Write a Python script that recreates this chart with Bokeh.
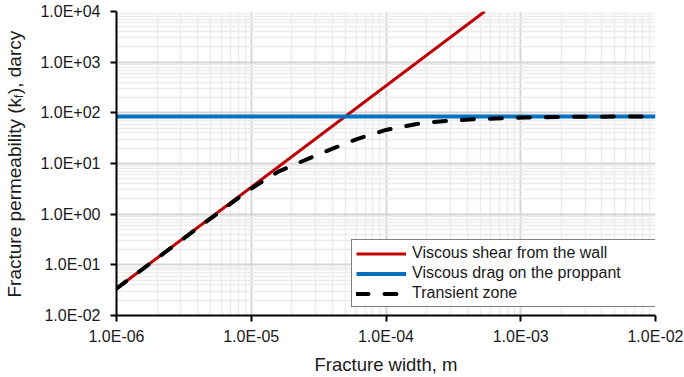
import math
from bokeh.plotting import figure
from bokeh.layouts import row
from bokeh.models import Range1d, FixedTicker, CustomJSTickFormatter, Label, Legend, LegendItem
from bokeh.embed import file_html
from bokeh.resources import INLINE

# ---- data ----
wall_width = [1.0e-6, 5.4e-4]
wall_perm = [0.034, 1.0e4]

drag_width = [1.0e-6, 1.0e-2]
drag_perm = [85.0, 85.0]

trans_width = [1.0e-6, 2.0e-6, 4.0e-6, 7.0e-6, 1.0e-5, 1.6e-5, 2.3e-5, 3.7e-5,
               6.0e-5, 1.0e-4, 1.8e-4, 2.8e-4, 4.6e-4, 7.4e-4, 1.1e-3, 2.0e-3,
               5.0e-3, 1.0e-2]
trans_perm = [0.034, 0.135, 0.53, 1.6, 3.2, 7.0, 10.6, 18.0,
              30.0, 46.0, 62.0, 69.0, 75.0, 78.5, 81.0, 83.0,
              84.5, 85.0]

x_ticks = [1e-6, 1e-5, 1e-4, 1e-3, 1e-2]
y_ticks = [1e-2, 1e-1, 1e0, 1e1, 1e2, 1e3, 1e4]

series_names = ["Viscous shear from the wall", "Viscous drag on the proppant", "Transient zone"]

FONT = "Liberation Sans"
LABW = 26

p = figure(width=684 - LABW, height=377, x_axis_type="log", y_axis_type="log",
           x_range=Range1d(1e-6, 1e-2), y_range=Range1d(1e-2, 1e4),
           output_backend="svg", toolbar_location=None,
           min_border_left=116 - LABW, min_border_right=29, min_border_top=11, min_border_bottom=62)
p.outline_line_color = None
p.background_fill_color = "white"
p.border_fill_color = "white"

x_minor = [m * 10.0 ** e for e in range(-6, -2) for m in range(2, 10)]
y_minor = [m * 10.0 ** e for e in range(-2, 4) for m in range(2, 10)]
p.xaxis.ticker = FixedTicker(ticks=x_ticks, minor_ticks=x_minor)
p.yaxis.ticker = FixedTicker(ticks=y_ticks, minor_ticks=y_minor)
p.xgrid.ticker = p.xaxis.ticker
p.ygrid.ticker = p.yaxis.ticker

fmt = CustomJSTickFormatter(code="""
const e = Math.round(Math.log10(tick));
const s = e < 0 ? "-" : "+";
const a = Math.abs(e);
return "1.0E" + s + (a < 10 ? "0" : "") + a;
""")
p.xaxis.formatter = fmt
p.yaxis.formatter = fmt

for ax in (p.xaxis, p.yaxis):
    ax.axis_line_color = "black"
    ax.axis_line_width = 2
    ax.major_tick_line_color = "black"
    ax.major_tick_line_width = 2
    ax.major_tick_in = 0
    ax.major_tick_out = 6
    ax.minor_tick_in = 0
    ax.minor_tick_out = 0
    ax.major_label_text_font = FONT
    ax.major_label_text_font_size = "16px"
    ax.major_label_text_color = "#1a1a1a"

p.yaxis.major_label_standoff = 10
p.xaxis.major_label_standoff = 6
p.xaxis.axis_label = "Fracture width, m"
p.xaxis.axis_label_text_font = FONT
p.xaxis.axis_label_text_font_size = "18.5px"
p.xaxis.axis_label_text_font_style = "normal"
p.xaxis.axis_label_text_color = "#1a1a1a"
p.xaxis.axis_label_standoff = 6

for g in (p.xgrid, p.ygrid):
    g.grid_line_color = "#d6d6d6"
    g.grid_line_width = 2
    g.minor_grid_line_color = "#ececec"
    g.minor_grid_line_width = 1.5

r_wall = p.line(wall_width, wall_perm, line_color="#C00000", line_width=3)
r_drag = p.line(drag_width, drag_perm, line_color="#0070C0", line_width=4)
r_trans = p.line(trans_width, trans_perm, line_color="black", line_width=4,
                 line_dash="12 16", line_cap="round")

legend = Legend(items=[LegendItem(label=series_names[0], renderers=[r_wall]),
                       LegendItem(label=series_names[1], renderers=[r_drag]),
                       LegendItem(label=series_names[2], renderers=[r_trans])],
                location=(235, 8))
legend.label_text_font = FONT
legend.label_text_font_size = "16px"
legend.label_text_color = "#1a1a1a"
legend.border_line_color = "black"
legend.border_line_width = 1
legend.background_fill_color = "white"
legend.background_fill_alpha = 1
legend.padding = 4
legend.spacing = 2
legend.margin = 0
legend.glyph_width = 50
legend.glyph_height = 17
legend.label_height = 17
legend.label_standoff = 6
legend.label_width = 240
p.add_layout(legend, "center")

# narrow strip at the left that carries the y-axis title (with subscript);
# its frame is aligned with the main plot's frame by the row layout
lab = figure(width=LABW, height=377, x_range=Range1d(0, 1), y_range=Range1d(0, 1),
             output_backend="svg", toolbar_location=None,
             x_axis_location=None, y_axis_location=None,
             min_border_left=0, min_border_right=0, min_border_top=0, min_border_bottom=0)
lab.outline_line_color = None
lab.grid.visible = False
lab.background_fill_color = "white"
lab.border_fill_color = "white"

ylab_x = 14
y0 = 18
fs = 19
seg1 = "Fracture permeability (k"
seg1_em = 10.502
lab.add_layout(Label(x=ylab_x, y=y0, x_units="screen", y_units="screen", text=seg1,
                     angle=math.pi / 2, text_font=FONT, text_font_size=f"{fs}px",
                     text_align="left", text_baseline="middle", text_color="#1a1a1a"))
y1 = y0 + seg1_em * fs
lab.add_layout(Label(x=ylab_x + 4, y=y1, x_units="screen", y_units="screen", text="f",
                     angle=math.pi / 2, text_font=FONT, text_font_size="12px",
                     text_align="left", text_baseline="middle", text_color="#1a1a1a"))
y2 = y1 + 0.278 * 12 + 0.5
lab.add_layout(Label(x=ylab_x, y=y2, x_units="screen", y_units="screen", text="), darcy",
                     angle=math.pi / 2, text_font=FONT, text_font_size=f"{fs}px",
                     text_align="left", text_baseline="middle", text_color="#1a1a1a"))

layout = row(lab, p, spacing=0)
open("out.html", "w").write(file_html(layout, INLINE))
